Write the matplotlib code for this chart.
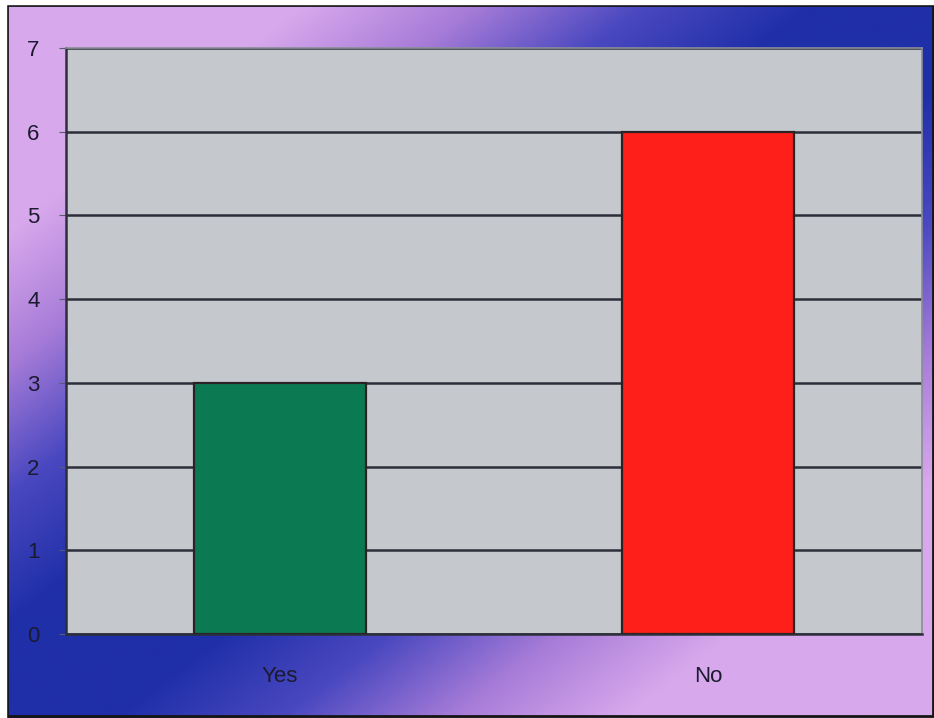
import numpy as np
import matplotlib
matplotlib.use("Agg")
import matplotlib.pyplot as plt
from matplotlib.colors import LinearSegmentedColormap
from matplotlib.patches import Rectangle

categories = ["Yes", "No"]
values = [3, 6]
bar_colors = ["#0b7a52", "#ff1f1a"]
yticks = [0, 1, 2, 3, 4, 5, 6, 7]

W, H = 934, 718
fig = plt.figure(figsize=(W / 100, H / 100), dpi=100)
fig.patch.set_facecolor("white")

# background gradient (lavender corners, blue diagonal band)
bg = fig.add_axes([0, 0, 1, 1], zorder=0)
bg.set_axis_off()
xx, yy = np.meshgrid(np.linspace(0, 1, 300), np.linspace(0, 1, 240))
s = np.abs(xx + yy - 1.0)
t = np.clip((s - 0.12) / 0.55, 0, 1)
cmap = LinearSegmentedColormap.from_list(
    "bgc", ["#1f2fa8", "#4a48c0", "#a77cd8", "#d8a8ec"])
bg.imshow(t, cmap=cmap, extent=[0, 1, 0, 1], origin="upper",
          aspect="auto", vmin=0, vmax=1)
bg.set_xlim(0, 1)
bg.set_ylim(0, 1)
# frame border
bg.add_patch(Rectangle((7 / W, 1 - 716 / H), (933 - 7) / W, (716 - 5) / H,
                       fill=False, edgecolor="#151515", linewidth=2.0,
                       transform=bg.transAxes))
# white margin outside frame
bg.add_patch(Rectangle((0, 0), 6 / W, 1, color="white", transform=bg.transAxes))
bg.add_patch(Rectangle((0, 1 - 4 / H), 1, 4 / H, color="white", transform=bg.transAxes))

ax = fig.add_axes([66 / W, 1 - 634 / H, (922 - 66) / W, (634 - 48) / H], zorder=1)
ax.set_facecolor("#c5c9cd")
x = np.arange(len(categories))
ax.bar(x, values, width=0.4, color=bar_colors, edgecolor="#2a2225",
       linewidth=1.6, zorder=3)
ax.set_xlim(-0.5, 1.5)
ax.set_ylim(0, 7)
ax.set_yticks(yticks)
ax.set_yticklabels([str(v) for v in yticks])
ax.yaxis.grid(True, color="#2c2f3a", linewidth=1.8, zorder=1)
ax.set_axisbelow(True)
ax.set_xticks(x)
ax.set_xticklabels(categories)
for sp in ["left", "bottom"]:
    ax.spines[sp].set_color("#2c2f3a")
    ax.spines[sp].set_linewidth(1.8)
for sp in ["top", "right"]:
    ax.spines[sp].set_color("#8a8e98")
    ax.spines[sp].set_linewidth(1.2)
ax.tick_params(axis="y", length=5, color="#5a5a70", pad=14,
               labelsize=16, labelcolor="#1a1a30")
ax.tick_params(axis="x", length=0, pad=23, labelsize=16, labelcolor="#1a1a30")
for lab in ax.get_xticklabels() + ax.get_yticklabels():
    lab.set_fontfamily("Liberation Sans")

fig.savefig("out.png", dpi=100)
